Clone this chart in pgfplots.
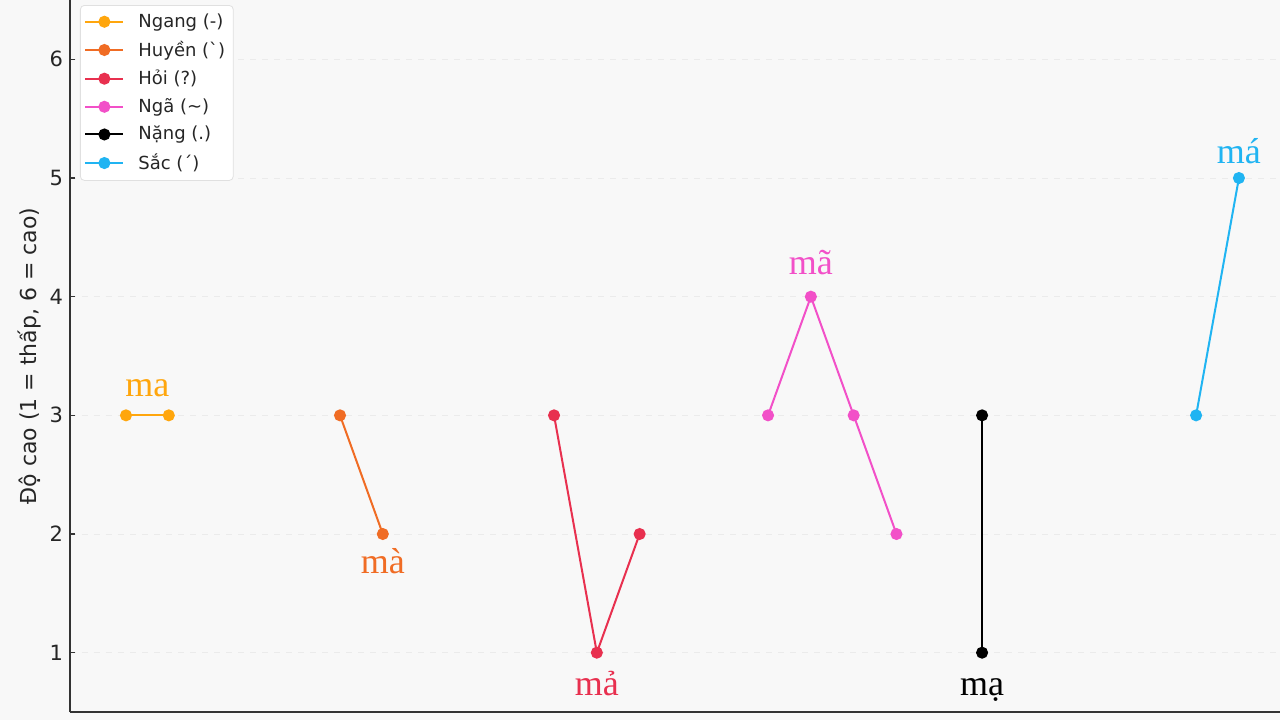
\documentclass[border=0pt]{standalone}
\usepackage{fontspec}
\setmainfont{DejaVu Sans}
\newfontfamily\serifl{Liberation Serif}
\usepackage{pgfplots}
\pgfplotsset{compat=1.18}
\definecolor{bgc}{HTML}{F8F8F8}
\definecolor{cNgang}{HTML}{FFA60D}
\definecolor{cHuyen}{HTML}{F06C24}
\definecolor{cHoi}{HTML}{E8304F}
\definecolor{cNga}{HTML}{F250C8}
\definecolor{cNang}{HTML}{000000}
\definecolor{cSac}{HTML}{20B4F2}
\begin{document}
\begin{tikzpicture}
\fill[bgc] (0,0) rectangle (640pt,360pt);
\useasboundingbox (0,0) rectangle (640pt,360pt);
\begin{axis}[
  at={(35pt,4pt)}, anchor=south west,
  scale only axis, width=605pt, height=356pt,
  xmin=-1.308, xmax=26.96, ymin=0.5, ymax=6.5,
  axis x line=bottom, axis y line=left,
  axis line style={-, line width=0.8pt, color=black!80},
  xtick=\empty,
  ytick={1,2,3,4,5,6},
  tick align=inside, major tick length=2.5pt,
  y tick style={line width=0.6pt, color=black!80},
  ymajorgrids, grid style={dashed, color=black!8, line width=0.5pt},
  tick label style={font=\fontsize{10.5}{12}\selectfont, color=black!85},
  yticklabel style={inner xsep=3.3pt},
  /pgf/number format/assume math mode=true,
  ylabel={Độ cao (1 = thấp, 6 = cao)},
  every axis y label/.style={at={(axis description cs:-0.0331,0.5)}, rotate=90, anchor=center, font=\fontsize{11}{13}\selectfont, color=black!85},
  clip=false,
  every axis plot/.append style={line width=1pt, mark=*, mark size=2.5pt, mark options={solid}},
  legend image code/.code={\draw[mark repeat=2,mark phase=2,#1] plot coordinates {(0pt,0pt) (9.5pt,0pt) (19pt,0pt)};},
  legend cell align=left,
  legend style={at={(axis description cs:0,1)}, anchor=north west, xshift=5pt, yshift=-2.5pt,
    font=\fontsize{9}{11}\selectfont, draw=black!12, fill=white, rounded corners=2pt,
    row sep=1.4pt, inner sep=2pt, text=black!85,
    /tikz/every odd column/.append style={column sep=5pt}},
]
\addplot[color=cNgang] coordinates {(0,3) (1,3)};
\addlegendentry{Ngang (-)}
\addplot[color=cHuyen] coordinates {(5,3) (6,2)};
\addlegendentry{Huyền (\textasciigrave)}
\addplot[color=cHoi] coordinates {(10,3) (11,1) (12,2)};
\addlegendentry{Hỏi (?)}
\addplot[color=cNga] coordinates {(15,3) (16,4) (17,3) (18,2)};
\addlegendentry{Ngã (\textasciitilde)}
\addplot[color=cNang] coordinates {(20,3) (20,1)};
\addlegendentry{Nặng (.)}
\addplot[color=cSac] coordinates {(25,3) (26,5)};
\addlegendentry{Sắc (´)}
\node[font=\serifl\fontsize{18}{20}\selectfont, text=cNgang, anchor=base] at (axis cs:0.5,3.16) {ma};
\node[font=\serifl\fontsize{18}{20}\selectfont, text=cHuyen, anchor=base] at (axis cs:6,1.67) {mà};
\node[font=\serifl\fontsize{18}{20}\selectfont, text=cHoi, anchor=base] at (axis cs:11,0.64) {mả};
\node[font=\serifl\fontsize{18}{20}\selectfont, text=cNga, anchor=base] at (axis cs:16,4.19) {mã};
\node[font=\serifl\fontsize{18}{20}\selectfont, text=cNang, anchor=base] at (axis cs:20,0.64) {mạ};
\node[font=\serifl\fontsize{18}{20}\selectfont, text=cSac, anchor=base] at (axis cs:26,5.12) {má};
\end{axis}
\end{tikzpicture}
\end{document}
